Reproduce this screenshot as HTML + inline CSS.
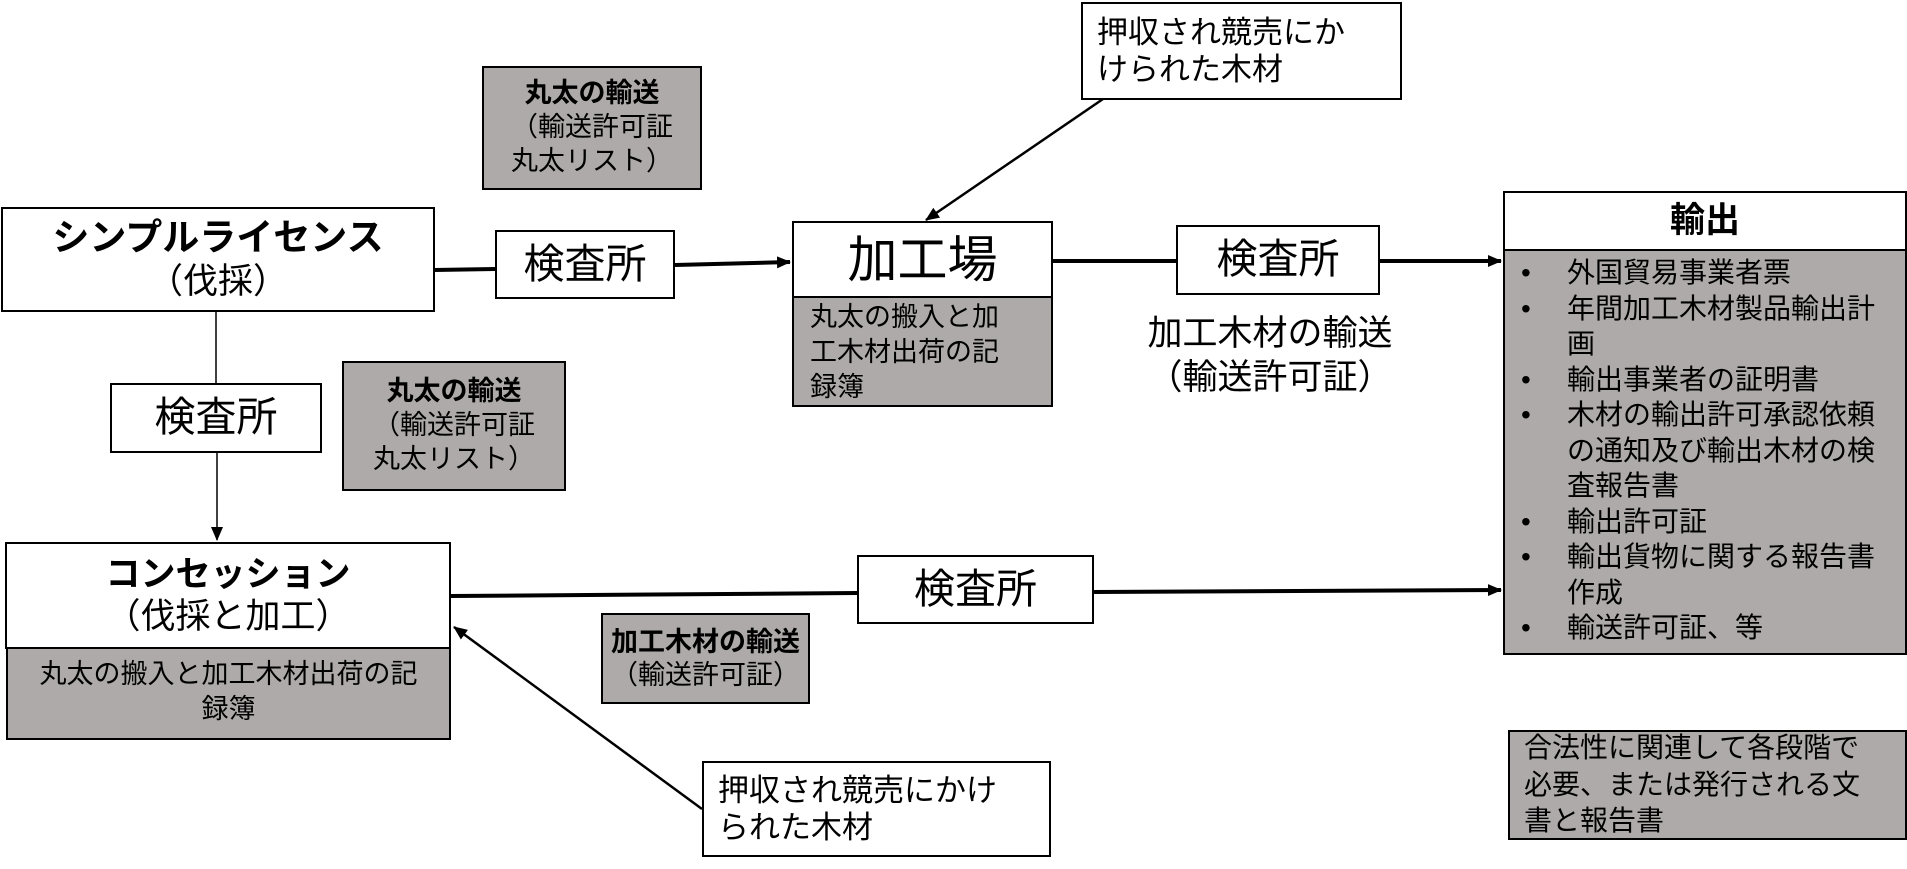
<!DOCTYPE html>
<html><head><meta charset="utf-8"><style>
body{margin:0;width:1907px;height:869px;background:#fff;position:relative;overflow:hidden;font-family:"Liberation Sans","Noto Sans CJK JP",sans-serif;color:#000}
.b{position:absolute;box-sizing:border-box;border:2px solid #000;background:#fff;display:flex;flex-direction:column;align-items:center;justify-content:center;text-align:center;line-height:1.2}
.g{background:#aeaaaa}
.l{position:absolute;line-height:1.25}
ul{margin:0;padding:0;list-style:none}
li{position:relative;padding-left:62px}
li:before{content:"•";position:absolute;left:16px}
</style></head><body>
<svg width="1907" height="869" style="position:absolute;left:0;top:0">
<defs><marker id="a2" markerWidth="14" markerHeight="12" refX="13" refY="6" orient="auto" markerUnits="userSpaceOnUse"><path d="M0,0L14,6L0,12z"/></marker></defs>
<g stroke="#000" fill="none">
<line x1="434" y1="270" x2="495" y2="269" stroke-width="4"/>
<line x1="675" y1="265" x2="790" y2="262" stroke-width="4" marker-end="url(#a2)"/>
<line x1="1052" y1="261" x2="1176" y2="261" stroke-width="4"/>
<line x1="1379" y1="261" x2="1501" y2="261" stroke-width="4" marker-end="url(#a2)"/>
<line x1="216" y1="311" x2="216" y2="383" stroke-width="1.5"/>
<line x1="217" y1="452" x2="217" y2="540" stroke-width="1.5" marker-end="url(#a2)"/>
<line x1="450" y1="596" x2="857" y2="593" stroke-width="4"/>
<line x1="1093" y1="592" x2="1501" y2="590" stroke-width="4" marker-end="url(#a2)"/>
<line x1="1103" y1="99" x2="926" y2="220" stroke-width="2.5" marker-end="url(#a2)"/>
<line x1="702" y1="809" x2="454" y2="627" stroke-width="2.5" marker-end="url(#a2)"/>
</g></svg>

<div class="b" style="left:1px;top:207px;width:434px;height:105px"><div style="font-size:37px;font-weight:bold">シンプルライセンス</div><div style="font-size:35px">（伐採）</div></div>
<div class="b" style="left:495px;top:230px;width:180px;height:69px;font-size:41px">検査所</div>
<div class="b g" style="left:482px;top:66px;width:220px;height:124px;font-size:27px;line-height:1.25"><div style="font-weight:bold">丸太の輸送</div><div>（輸送許可証<br>丸太リスト）</div></div>
<div class="b" style="left:792px;top:221px;width:261px;height:77px;font-size:50px">加工場</div>
<div class="b g" style="left:792px;top:296px;width:261px;height:111px;font-size:27px;align-items:flex-start;justify-content:flex-start;text-align:left;padding:2px 16px;line-height:1.3">丸太の搬入と加<br>工木材出荷の記<br>録簿</div>
<div class="b" style="left:1081px;top:2px;width:321px;height:98px;font-size:31px;align-items:flex-start;text-align:left;padding:0 14px">押収され競売にか<br>けられた木材</div>
<div class="b" style="left:1176px;top:225px;width:204px;height:70px;font-size:41px">検査所</div>
<div class="l" style="left:1110px;top:312px;width:320px;text-align:center;font-size:35px">加工木材の輸送<br>（輸送許可証）</div>
<div class="b" style="left:1503px;top:191px;width:404px;height:60px;font-size:35px;font-weight:bold">輸出</div>
<div class="b g" style="left:1503px;top:249px;width:404px;height:406px;font-size:28px;align-items:stretch;justify-content:flex-start;text-align:left;padding:4px 16px 0 0;line-height:35.5px">
<ul><li>外国貿易事業者票</li><li>年間加工木材製品輸出計画</li><li>輸出事業者の証明書</li><li>木材の輸出許可承認依頼の通知及び輸出木材の検査報告書</li><li>輸出許可証</li><li>輸出貨物に関する報告書作成</li><li>輸送許可証、等</li></ul></div>
<div class="b" style="left:110px;top:383px;width:212px;height:70px;font-size:41px">検査所</div>
<div class="b g" style="left:342px;top:361px;width:224px;height:130px;font-size:27px;line-height:1.25"><div style="font-weight:bold">丸太の輸送</div><div>（輸送許可証<br>丸太リスト）</div></div>
<div class="b" style="left:5px;top:542px;width:446px;height:107px"><div style="font-size:35px;font-weight:bold">コンセッション</div><div style="font-size:35px">（伐採と加工）</div></div>
<div class="b g" style="left:6px;top:647px;width:445px;height:93px;font-size:27px;justify-content:flex-start;padding-top:8px;line-height:1.3">丸太の搬入と加工木材出荷の記<br>録簿</div>
<div class="b" style="left:857px;top:555px;width:237px;height:69px;font-size:41px">検査所</div>
<div class="b g" style="left:601px;top:613px;width:209px;height:91px;font-size:27px"><div style="font-weight:bold">加工木材の輸送</div><div>（輸送許可証）</div></div>
<div class="b" style="left:702px;top:761px;width:349px;height:96px;font-size:31px;align-items:flex-start;text-align:left;padding:0 14px">押収され競売にかけ<br>られた木材</div>
<div class="b g" style="left:1508px;top:730px;width:399px;height:110px;font-size:28px;align-items:flex-start;text-align:left;padding:0 14px;line-height:1.3">合法性に関連して各段階で<br>必要、または発行される文<br>書と報告書</div>
</body></html>
